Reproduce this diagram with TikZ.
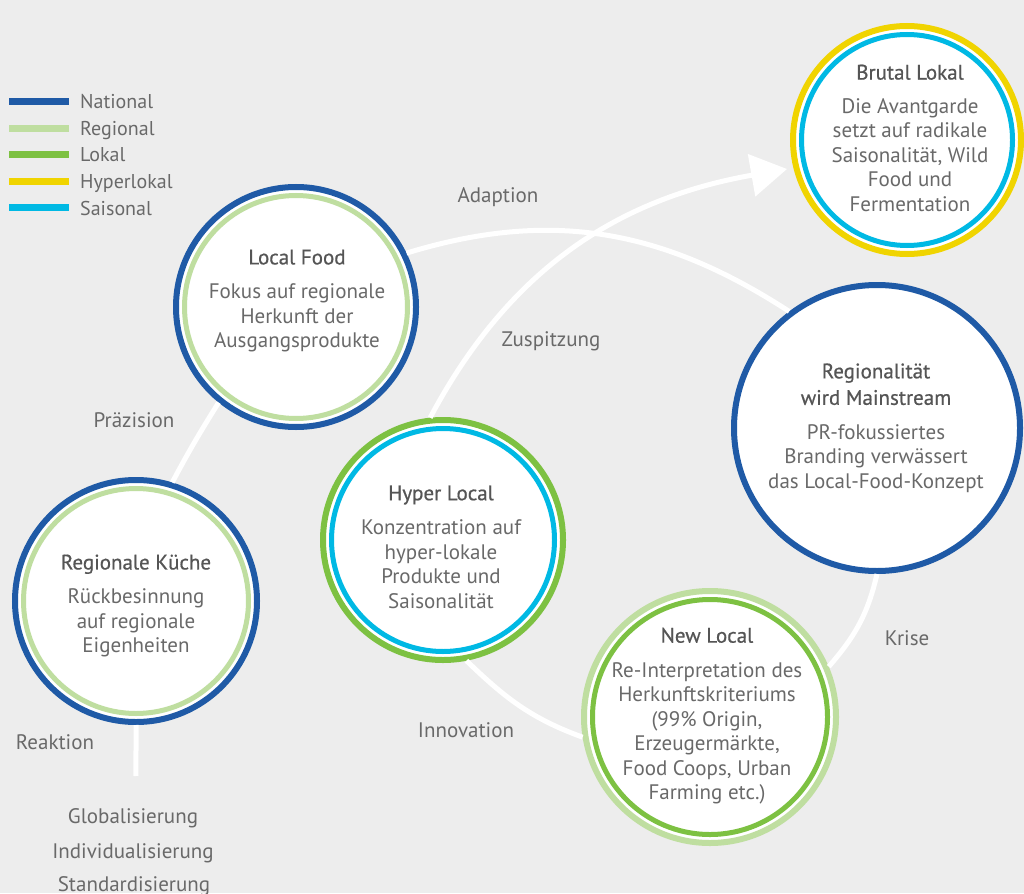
\documentclass[tikz,border=0pt]{standalone}
\usepackage{fontspec}
\setmainfont{PT Sans}
\newfontfamily\titlefont[FakeBold=0.6]{PT Sans}
\usetikzlibrary{arrows.meta}
\definecolor{bg}{RGB}{237,237,237}
\definecolor{natc}{RGB}{31,90,166}
\definecolor{regc}{RGB}{191,222,160}
\definecolor{lokc}{RGB}{125,193,66}
\definecolor{hypc}{RGB}{240,212,0}
\definecolor{saic}{RGB}{0,185,228}
\definecolor{txtc}{RGB}{105,105,105}
\definecolor{ttlc}{RGB}{85,85,85}
\newcommand{\ttl}[1]{{\titlefont\color{ttlc}#1}}
\begin{document}
\begin{tikzpicture}[x=1pt,y=1pt,
  bub/.style={circle, draw=#1, line width=6pt, fill=white, inner sep=0pt},
  txt/.style={align=center, text=txtc, inner sep=0pt, font=\fontsize{21}{24.5}\selectfont},
  lbl/.style={text=txtc, inner sep=0pt, anchor=base, font=\fontsize{21}{24}\selectfont},
  leg/.style={text=txtc, inner sep=0pt, anchor=base west, font=\fontsize{20}{24}\selectfont},
  flow/.style={draw=white, line width=5pt},
  swatch/.style={fill=#1, minimum width=60pt, minimum height=7pt, inner sep=0pt}]
\fill[bg] (0,0) rectangle (1024,-893);
\useasboundingbox (0,0) rectangle (1024,-893);

% legend
\node[swatch=natc] (lg1) at (39,-102) {};
\node[swatch=regc] (lg2) at (39,-129) {};
\node[swatch=lokc] (lg3) at (39,-155) {};
\node[swatch=hypc] (lg4) at (39,-182) {};
\node[swatch=saic] (lg5) at (39,-208) {};
\node[leg] (lt1) at (80,-109) {National};
\node[leg] (lt2) at (80,-136) {Regional};
\node[leg] (lt3) at (80,-162) {Lokal};
\node[leg] (lt4) at (80,-189) {Hyperlokal};
\node[leg] (lt5) at (80,-215) {Saisonal};

% circles (nodes)
\node[bub=hypc, minimum size=228pt] (bl) at (907,-140) {};
\node[bub=natc, minimum size=240pt] (lf) at (296,-307) {};
\node[bub=natc, minimum size=286pt] (rg) at (877,-428) {};
\node[bub=natc, minimum size=242pt] (rk) at (136,-601) {};
\node[bub=lokc, minimum size=240pt] (hl) at (443,-540) {};
\node[bub=regc, minimum size=252pt] (nl) at (710,-717) {};

% flow connectors
\coordinate (start) at (136,-776);
\coordinate (tip) at (787,-169);
\draw[flow] (start) to[out=92,in=-88] (rk.270);
\draw[flow] (rk.73) to[out=62,in=238] (lf.231);
\draw[flow] (lf.26) to[out=17,in=147] (rg.127);
\draw[flow] (rg.270) to[out=257,in=49] (nl.23);
\draw[flow] (hl.281) to[out=316,in=160] (nl.189);
\draw[flow, -{Triangle[length=36pt,width=42pt]}] (hl.96) to[out=62,in=190] (tip);

% inner rings
\draw[saic, line width=5pt] (bl.center) circle[radius=105.5];
\draw[regc, line width=5pt] (lf.center) circle[radius=111.5];
\draw[regc, line width=5pt] (rk.center) circle[radius=112.5];
\draw[saic, line width=5pt] (hl.center) circle[radius=111.5];
\draw[lokc, line width=5pt] (nl.center) circle[radius=117.5];

% circle texts
\node[txt] (bl-t) at (910,-138) {\ttl{Brutal Lokal}\\[9pt]Die Avantgarde\\setzt auf radikale\\Saisonalität, Wild\\Food und\\Fermentation};
\node[txt] (lf-t) at (297,-301) {\ttl{Local Food}\\[10pt]Fokus auf regionale\\Herkunft der\\Ausgangsprodukte};
\node[txt] (rg-t) at (876,-428) {\ttl{Regionalität}\\[2pt]\ttl{wird Mainstream}\\[10pt]PR-fokussiertes\\Branding verwässert\\das Local-Food-Konzept};
\node[txt] (rk-t) at (136,-606) {\ttl{Regionale Küche}\\[10pt]Rückbesinnung\\auf regionale\\Eigenheiten};
\node[txt] (hl-t) at (441,-547) {\ttl{Hyper Local}\\[10pt]Konzentration auf\\hyper-lokale\\Produkte und\\Saisonalität};
\node[txt] (nl-t) at (707,-716) {\ttl{New Local}\\[10pt]Re-Interpretation des\\Herkunftskriteriums\\(99\% Origin,\\Erzeugermärkte,\\Food Coops, Urban\\Farming etc.)};

% connector labels
\node[lbl] (l-adap) at (498,-203) {Adaption};
\node[lbl] (l-zusp) at (551,-346) {Zuspitzung};
\node[lbl] (l-praez) at (134,-427) {Präzision};
\node[lbl] (l-krise) at (907,-645) {Krise};
\node[lbl] (l-innov) at (466,-737) {Innovation};
\node[lbl] (l-reakt) at (55,-749) {Reaktion};
\node[lbl] (l-glob) at (133,-823) {Globalisierung};
\node[lbl] (l-indiv) at (133,-858) {Individualisierung};
\node[lbl] (l-stand) at (134,-891) {Standardisierung};
\end{tikzpicture}
\end{document}
